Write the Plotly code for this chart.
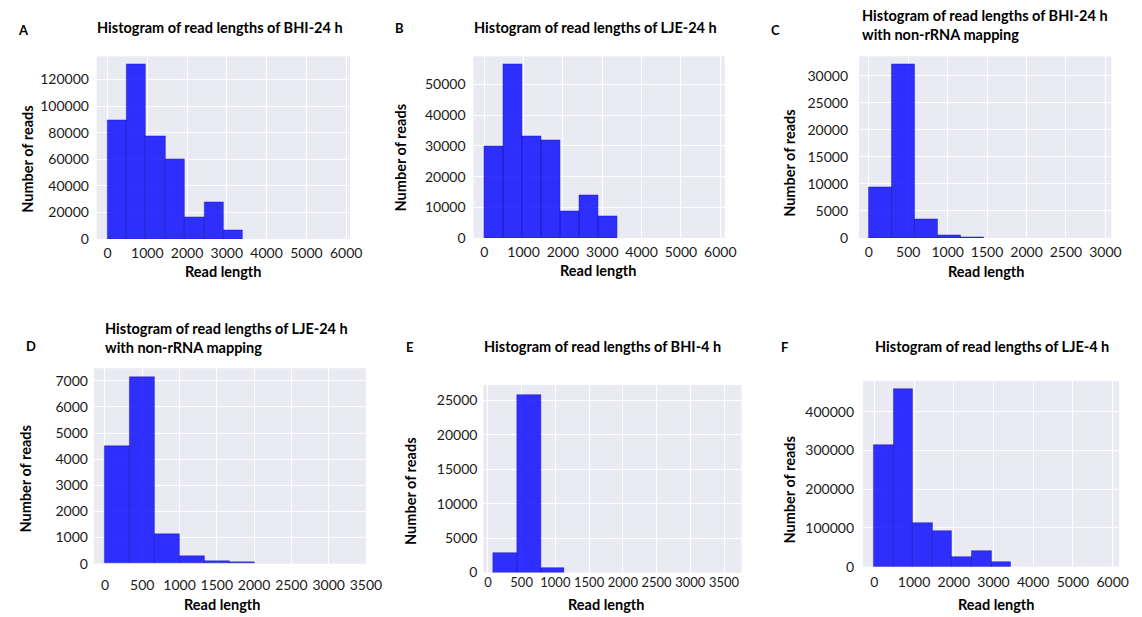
import plotly.graph_objects as go

W, H = 1142, 617

# ---------------- data ----------------
panel_letters = ["A", "B", "C", "D", "E", "F"]
panel_titles = [
    "Histogram of read lengths of BHI-24 h",
    "Histogram of read lengths of LJE-24 h",
    "Histogram of read lengths of BHI-24 h<br>with non-rRNA mapping",
    "Histogram of read lengths of LJE-24 h<br>with non-rRNA mapping",
    "Histogram of read lengths of BHI-4 h",
    "Histogram of read lengths of LJE-4 h",
]

edges_A = [0, 487, 974, 1461, 1948, 2435, 2922, 3409]
counts_A = [89400, 131200, 77500, 59600, 16100, 27300, 6200]

edges_B = [0, 485, 970, 1455, 1940, 2425, 2910, 3395]
counts_B = [29900, 56600, 33100, 31800, 8700, 13800, 7100]

edges_C = [0, 292, 584, 876, 1168, 1460]
counts_C = [9430, 32170, 3420, 420, 60]

edges_D = [0, 334, 668, 1002, 1336, 1670, 2004]
counts_D = [4500, 7135, 1115, 283, 106, 40]

edges_E = [86, 436, 786, 1136]
counts_E = [2800, 25700, 710]

edges_F = [0, 491, 982, 1473, 1964, 2455, 2946, 3437]
counts_F = [315200, 459800, 113000, 91700, 23900, 41100, 11000]

x_ticks_6000 = [0, 1000, 2000, 3000, 4000, 5000, 6000]
x_ticks_3000 = [0, 500, 1000, 1500, 2000, 2500, 3000]
x_ticks_3500 = [0, 500, 1000, 1500, 2000, 2500, 3000, 3500]
y_ticks_A = [0, 20000, 40000, 60000, 80000, 100000, 120000]
y_ticks_B = [0, 10000, 20000, 30000, 40000, 50000]
y_ticks_C = [0, 5000, 10000, 15000, 20000, 25000, 30000]
y_ticks_D = [0, 1000, 2000, 3000, 4000, 5000, 6000, 7000]
y_ticks_E = [0, 5000, 10000, 15000, 20000, 25000]
y_ticks_F = [0, 100000, 200000, 300000, 400000]

x_label = "Read length"
y_label = "Number of reads"

# ---------------- layout / style ----------------
panels = [
    dict(edges=edges_A, counts=counts_A, xt=x_ticks_6000, yt=y_ticks_A,
         box=(90, 347, 49, 234), xr=[-270, 6100], yr=[0, 137400], xtl=1, ytl=4, xfs=14,
         letter=(16, 22), title=(214.7, 20, "center"), ylab=(19, 153), xlab=(218, 267)),
    dict(edges=edges_B, counts=counts_B, xt=x_ticks_6000, yt=y_ticks_B,
         box=(472, 727, 49, 233), xr=[-276, 6115], yr=[0, 59200], xtl=1, ytl=4, xfs=14,
         letter=(397, 20), title=(595.5, 20, "center"), ylab=(398, 152), xlab=(598, 266)),
    dict(edges=edges_C, counts=counts_C, xt=x_ticks_3000, yt=y_ticks_C,
         box=(863, 1119, 49, 233), xr=[-125, 3075], yr=[0, 33600], xtl=1, ytl=7, xfs=14,
         letter=(778, 22), title=(864, 17, "left"), ylab=(793, 157), xlab=(992, 267)),
    dict(edges=edges_D, counts=counts_D, xt=x_ticks_3500, yt=y_ticks_D,
         box=(87, 363, 365, 563), xr=[-150, 3500], yr=[0, 7480], xtl=8, ytl=2, xfs=14,
         letter=(23, 342), title=(96, 334, "left"), ylab=(18, 477), xlab=(217, 604)),
    dict(edges=edges_E, counts=counts_E, xt=x_ticks_3500, yt=y_ticks_E,
         box=(482, 744, 382, 572), xr=[-69, 3760], yr=[0, 27200], xtl=0, ytl=2, xfs=13,
         letter=(407, 343), title=(603, 343, "center"), ylab=(408, 490), xlab=(607, 604)),
    dict(edges=edges_F, counts=counts_F, xt=x_ticks_6000, yt=y_ticks_F,
         box=(867, 1127, 378, 566), xr=[-288, 6164], yr=[0, 479600], xtl=3, ytl=5, xfs=14,
         letter=(788, 343), title=(998, 343, "center"), ylab=(793, 488), xlab=(1002, 604)),
]

BAR_COLOR = "rgba(0,0,255,0.8)"
BAR_EDGE = "rgba(20,20,170,0.55)"
BG = "#EAEAF2"
FONT = "Lato, Open Sans, sans-serif"
TICK_COLOR = "#1a1a1a"

fig = go.Figure()
annotations = []

def px(x):
    return x / W

def py(y):
    return 1 - y / H

for i, p in enumerate(panels):
    s = "" if i == 0 else str(i + 1)
    e = p["edges"]
    centers = [(e[k] + e[k + 1]) / 2 for k in range(len(e) - 1)]
    widths = [e[k + 1] - e[k] for k in range(len(e) - 1)]
    fig.add_trace(go.Bar(
        x=centers, y=p["counts"], width=widths,
        marker=dict(color=BAR_COLOR, line=dict(color=BAR_EDGE, width=0.8)),
        xaxis="x" + s, yaxis="y" + s, showlegend=False, hoverinfo="x+y",
    ))
    x0, x1, y0, y1 = p["box"]
    fig.layout["xaxis" + s] = dict(
        domain=[px(x0), px(x1)], anchor="y" + s, range=p["xr"],
        tickmode="array", tickvals=p["xt"], ticktext=[str(v) for v in p["xt"]],
        showgrid=True, gridcolor="white", gridwidth=1, zeroline=False,
        showline=False, ticks="outside" if p["xtl"] > 0 else "", ticklen=max(p["xtl"], 1),
        tickcolor="rgba(0,0,0,0)", tickangle=0,
        tickfont=dict(family=FONT, size=p["xfs"], color=TICK_COLOR), fixedrange=True,
    )
    fig.layout["yaxis" + s] = dict(
        domain=[py(y1), py(y0)], anchor="x" + s, range=p["yr"],
        tickmode="array", tickvals=p["yt"], ticktext=[str(v) for v in p["yt"]],
        showgrid=True, gridcolor="white", gridwidth=1, zeroline=False,
        showline=False, ticks="outside" if p["ytl"] > 0 else "", ticklen=max(p["ytl"], 1),
        tickcolor="rgba(0,0,0,0)",
        tickfont=dict(family=FONT, size=14, color=TICK_COLOR), fixedrange=True,
    )
    lx, ly = p["letter"]
    annotations.append(dict(
        text="<b>%s</b>" % panel_letters[i], x=px(lx), y=py(ly), xref="paper", yref="paper",
        xanchor="center", yanchor="middle", showarrow=False,
        font=dict(family=FONT, size=13, color="black"),
    ))
    tx, ty, al = p["title"]
    annotations.append(dict(
        text="<b>%s</b>" % panel_titles[i], x=px(tx), y=py(ty), xref="paper", yref="paper",
        xanchor="left" if al == "left" else "center", yanchor="middle", align=al,
        showarrow=False, font=dict(family=FONT, size=14.5, color="black"),
    ))
    yx, yy = p["ylab"]
    annotations.append(dict(
        text="<b>%s</b>" % y_label, x=px(yx), y=py(yy), xref="paper", yref="paper",
        xanchor="center", yanchor="middle", textangle=-90, showarrow=False,
        font=dict(family=FONT, size=14.5, color="black"),
    ))
    xx, xy = p["xlab"]
    annotations.append(dict(
        text="<b>%s</b>" % x_label, x=px(xx), y=py(xy), xref="paper", yref="paper",
        xanchor="center", yanchor="middle", showarrow=False,
        font=dict(family=FONT, size=14.5, color="black"),
    ))

fig.update_layout(
    width=W, height=H, margin=dict(l=0, r=0, t=0, b=0),
    paper_bgcolor="white", plot_bgcolor=BG,
    bargap=0, annotations=annotations, showlegend=False,
)

fig.write_html("out.html")
